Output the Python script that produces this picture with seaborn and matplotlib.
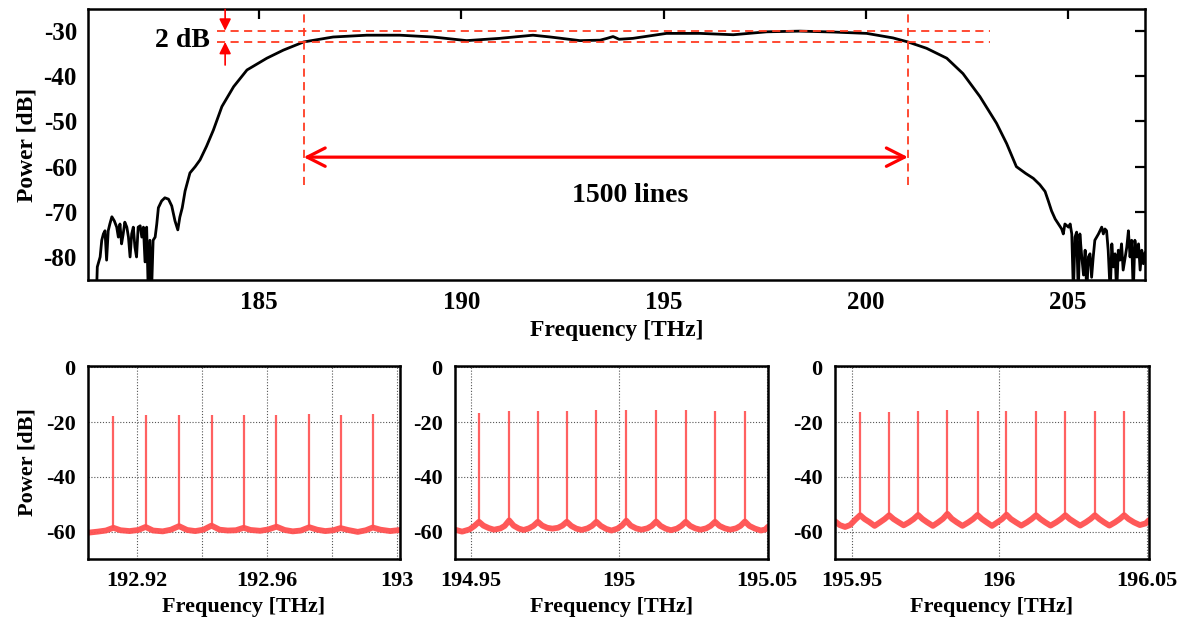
import matplotlib
matplotlib.use("Agg")
import matplotlib.pyplot as plt
import seaborn as sns

# ---------------- data ----------------
top_freq = [180.98, 181.00, 181.07, 181.11, 181.15, 181.19, 181.23, 181.27, 181.31, 181.36,
            181.42, 181.48, 181.52, 181.56, 181.60, 181.64, 181.68, 181.73, 181.77, 181.81,
            181.85, 181.89, 181.93, 181.97, 182.01, 182.06, 182.10, 182.14, 182.18, 182.22,
            182.26, 182.30, 182.34, 182.38, 182.43, 182.47, 182.51, 182.59, 182.67, 182.76,
            182.84, 182.92, 182.99, 183.04, 183.10, 183.17, 183.29, 183.42, 183.54, 183.70,
            183.87, 184.08, 184.37, 184.70, 185.19, 185.60, 186.10, 186.83, 187.66, 188.48,
            189.30, 190.13, 190.95, 191.77, 192.20, 192.93, 193.43, 193.60, 193.75, 193.90,
            194.24, 195.07, 195.90, 196.72, 197.55, 198.37, 199.20, 200.02, 200.67, 201.04,
            201.50, 202.00, 202.40, 202.82, 203.23, 203.48, 203.72, 203.95, 204.14, 204.30,
            204.43, 204.51, 204.59, 204.68, 204.76, 204.84, 204.88, 204.92, 205.01, 205.05,
            205.09, 205.13, 205.17, 205.21, 205.25, 205.29, 205.33, 205.38, 205.42, 205.46,
            205.50, 205.54, 205.58, 205.62, 205.66, 205.75, 205.83, 205.87, 205.91, 205.95,
            205.99, 206.04, 206.08, 206.12, 206.16, 206.20, 206.24, 206.28, 206.32, 206.36,
            206.45, 206.49, 206.53, 206.57, 206.61, 206.65, 206.70, 206.74, 206.78, 206.82,
            206.86, 206.90]
top_power = [-88.0, -82.2, -80.0, -76.3, -74.9, -74.2, -80.7, -74.2, -72.7, -71.1,
             -72.0, -73.4, -75.6, -72.7, -77.1, -74.9, -72.3, -73.4, -75.6, -80.0,
             -74.9, -73.4, -77.8, -80.0, -73.4, -73.1, -75.6, -73.4, -81.1, -73.4,
             -88.0, -76.3, -88.0, -76.3, -75.6, -72.7, -69.1, -67.6, -66.9, -67.2,
             -68.7, -72.0, -74.0, -71.2, -69.1, -65.4, -61.4, -60.0, -58.5, -55.5,
             -51.9, -46.7, -42.3, -38.6, -36.0, -34.2, -32.4, -31.3, -30.9, -30.9,
             -31.3, -32.1, -31.6, -30.9, -31.3, -32.1, -32.0, -31.6, -31.2, -31.8,
             -31.6, -30.5, -30.5, -30.8, -30.15, -30.0, -30.2, -30.5, -31.5, -32.4,
             -33.8, -36.0, -39.4, -44.5, -50.4, -54.9, -60.0, -61.5, -62.6, -64.0,
             -65.5, -67.6, -69.8, -71.6, -72.7, -73.8, -74.9, -72.7, -73.4, -72.7,
             -74.9, -88.0, -75.6, -74.5, -88.0, -74.9, -79.3, -84.0, -78.5, -88.0,
             -80.0, -79.3, -84.5, -80.0, -76.3, -74.9, -73.4, -74.9, -73.8, -74.2,
             -78.5, -88.0, -77.1, -82.2, -79.3, -88.0, -78.5, -80.7, -77.1, -82.9,
             -77.8, -74.2, -80.0, -76.3, -88.0, -76.3, -80.0, -77.1, -82.9, -78.5,
             -81.5, -79.0]

top_xticks = [185, 190, 195, 200, 205]
top_yticks = [-80, -70, -60, -50, -40, -30]
top_ylabels = ["-80", "-70", "-60", "-50", "-40", "-30"]

flat_levels = [-30.0, -32.3]          # 2 dB window
band_edges = [186.1, 201.04]          # 1500 lines span

# panel 1 (192.9 THz region)
p1_peak_f = [192.9128, 192.9227, 192.9330, 192.9430, 192.9529, 192.9630, 192.9731, 192.9827, 192.9926]
p1_peak_db = [-17.8, -17.5, -17.5, -17.5, -17.5, -17.5, -17.2, -17.5, -17.2]
p1_base_db = [-58.6, -58.3, -58.0, -57.8, -58.6, -58.2, -58.4, -58.7, -58.5]
p1_floor_f = [192.905, 192.908, 192.9105, 192.9128, 192.915, 192.9178, 192.9205, 192.9227, 192.925,
              192.928, 192.9305, 192.9330, 192.9355, 192.938, 192.9405, 192.9430, 192.9455, 192.948,
              192.9505, 192.9529, 192.955, 192.958, 192.9605, 192.9630, 192.9655, 192.968, 192.9705,
              192.9731, 192.9755, 192.978, 192.9805, 192.9827, 192.985, 192.988, 192.9905, 192.9926,
              192.995, 192.998, 193.001]
p1_floor_db = [-60.4, -60.0, -59.6, -58.6, -59.5, -59.8, -59.4, -58.3, -59.6,
               -59.9, -59.3, -58.0, -59.4, -59.8, -59.3, -57.8, -59.3, -59.6,
               -59.5, -58.6, -59.4, -59.7, -59.2, -58.2, -59.4, -59.9, -59.6,
               -58.4, -59.3, -59.8, -59.5, -58.7, -59.4, -60.1, -59.5, -58.5,
               -59.3, -59.8, -59.4]
p1_xticks = [192.92, 192.94, 192.96, 192.98, 193.00]
p1_xlabels = ["192.92", "", "192.96", "", "193"]

# panel 2 (195 THz region)
p2_peak_f = [194.9527, 194.9629, 194.9726, 194.9824, 194.9924, 195.0025, 195.0126, 195.0226, 195.0325, 195.0426]
p2_peak_db = [-16.6, -16.0, -16.0, -16.0, -15.4, -15.4, -15.4, -15.6, -16.0, -16.0]
p2_base_db = [-56.4, -55.9, -56.4, -56.4, -56.4, -56.0, -56.3, -56.4, -56.4, -56.3]
p2_floor_f = [194.9446, 194.9470, 194.9495, 194.9512, 194.9527, 194.9542, 194.9560, 194.9578, 194.9600,
              194.9614, 194.9629, 194.9644, 194.9662, 194.9678, 194.9696, 194.9711, 194.9726, 194.9741,
              194.9758, 194.9775, 194.9794, 194.9809, 194.9824, 194.9839, 194.9856, 194.9874, 194.9894,
              194.9909, 194.9924, 194.9939, 194.9957, 194.9975, 194.9995, 195.0010, 195.0025, 195.0040,
              195.0058, 195.0076, 195.0096, 195.0111, 195.0126, 195.0141, 195.0158, 195.0176, 195.0196,
              195.0211, 195.0226, 195.0241, 195.0258, 195.0276, 195.0295, 195.0310, 195.0325, 195.0340,
              195.0358, 195.0376, 195.0396, 195.0411, 195.0426, 195.0441, 195.0460, 195.0480, 195.0495,
              195.0504]
p2_floor_db = [-59.3, -60.0, -59.2, -57.9, -56.4, -57.8, -58.7, -59.3, -58.8,
               -57.9, -55.9, -57.8, -58.9, -59.4, -58.8, -57.9, -56.4, -57.8,
               -58.6, -58.9, -58.6, -57.8, -56.4, -57.9, -58.9, -59.4, -58.8,
               -57.9, -56.4, -57.9, -59.0, -59.6, -58.9, -57.8, -56.0, -57.8,
               -58.8, -59.3, -58.8, -57.9, -56.3, -57.9, -58.9, -59.5, -58.9,
               -57.9, -56.4, -57.9, -58.8, -59.3, -58.8, -57.9, -56.4, -57.9,
               -58.8, -59.3, -58.8, -57.9, -56.3, -57.9, -58.9, -59.6, -59.2,
               -58.2]
p2_xticks = [194.95, 195.00, 195.05]
p2_xlabels = ["194.95", "195", "195.05"]

# panel 3 (196 THz region)
p3_peak_f = [195.9529, 195.9627, 195.9725, 195.9824, 195.9926, 196.0024, 196.0124, 196.0223, 196.0323, 196.0422]
p3_peak_db = [-16.3, -16.3, -16.0, -15.7, -16.0, -16.0, -16.0, -16.0, -16.0, -16.0]
p3_base_db = [-54.0, -54.0, -53.9, -53.5, -53.9, -53.8, -54.0, -54.0, -54.0, -54.0]
p3_floor_f = [195.9444, 195.9460, 195.9478, 195.9495, 195.9513, 195.9529, 195.9544, 195.9560, 195.9578,
              195.9596, 195.9612, 195.9627, 195.9642, 195.9658, 195.9676, 195.9694, 195.9710, 195.9725,
              195.9740, 195.9756, 195.9775, 195.9793, 195.9809, 195.9824, 195.9839, 195.9856, 195.9875,
              195.9895, 195.9911, 195.9926, 195.9941, 195.9957, 195.9975, 195.9993, 196.0009, 196.0024,
              196.0039, 196.0056, 196.0074, 196.0093, 196.0109, 196.0124, 196.0139, 196.0155, 196.0173,
              196.0192, 196.0208, 196.0223, 196.0238, 196.0255, 196.0273, 196.0292, 196.0308, 196.0323,
              196.0338, 196.0354, 196.0372, 196.0391, 196.0407, 196.0422, 196.0437, 196.0455, 196.0475,
              196.0495, 196.0506]
p3_floor_db = [-56.2, -57.6, -58.3, -57.6, -55.6, -54.0, -55.4, -56.5, -57.9,
               -56.6, -55.4, -54.0, -55.4, -56.5, -57.7, -56.6, -55.4, -53.9,
               -55.4, -56.6, -57.9, -56.6, -55.3, -53.5, -55.3, -56.6, -57.9,
               -56.6, -55.4, -53.9, -55.4, -56.6, -57.9, -56.6, -55.4, -53.8,
               -55.4, -56.6, -57.8, -56.6, -55.4, -54.0, -55.4, -56.6, -57.8,
               -56.6, -55.4, -54.0, -55.4, -56.6, -57.8, -56.6, -55.4, -54.0,
               -55.4, -56.6, -57.8, -56.6, -55.4, -54.0, -55.4, -56.6, -57.6,
               -57.0, -55.8]
p3_xticks = [195.95, 196.00, 196.05]
p3_xlabels = ["195.95", "196", "196.05"]

zoom_yticks = [0, -20, -40, -60]
zoom_ylabels = ["0", "-20", "-40", "-60"]

# ---------------- style ----------------
sns.set_theme(style="white")
plt.rcParams["font.family"] = ["Liberation Serif", "DejaVu Serif"]
plt.rcParams["font.weight"] = "bold"
plt.rcParams["axes.labelweight"] = "bold"
plt.rcParams["axes.unicode_minus"] = False
for key in ["text.color", "axes.labelcolor", "xtick.color", "ytick.color"]:
    plt.rcParams[key] = "black"

RED_DASH = "#ff3b22"
RED = "#ff0000"
COMB = "#ff5050"

fig = plt.figure(figsize=(12, 6.28), dpi=100)

# ---------------- top panel ----------------
ax = fig.add_axes([88 / 1200, 1 - 280 / 628, 1057 / 1200, 271 / 628])
sns.lineplot(x=top_freq, y=top_power, ax=ax, color="black", lw=2.0, estimator=None, sort=False)
ax.set_xlim(180.77, 206.9)
ax.set_ylim(-85.1, -25.1)
ax.set_xticks(top_xticks)
ax.set_yticks(top_yticks)
ax.set_yticklabels(top_ylabels)
ax.tick_params(direction="in", length=7, width=1.6, top=True, right=True,
               labelsize=18, pad=8, colors="black")
for sp in ax.spines.values():
    sp.set_linewidth(1.8)
    sp.set_color("black")
ax.set_xlabel("Frequency [THz]", fontsize=17, fontweight="bold", labelpad=4)
ax.set_ylabel("Power [dB]", fontsize=17, fontweight="bold", labelpad=4)

ax.hlines(flat_levels, 183.96, 203.07, colors=RED_DASH, linestyles=(0, (4.5, 3)), lw=1.3)
ax.vlines(band_edges, -64.1, -25.1, colors=RED_DASH, linestyles=(0, (4.5, 3)), lw=1.3)

ax.annotate("", xy=(band_edges[0], -57.9), xytext=(band_edges[1], -57.9),
            arrowprops=dict(arrowstyle="<->,head_length=0.65,head_width=0.33",
                            color=RED, lw=2.3, mutation_scale=20, shrinkA=0, shrinkB=0))
ax.text(194.17, -66.3, "1500 lines", fontsize=20, fontweight="bold", ha="center", va="center")

ax.annotate("", xy=(184.16, flat_levels[0] + 0.1), xytext=(184.16, -25.2),
            arrowprops=dict(arrowstyle="-|>,head_length=0.5,head_width=0.25",
                            color=RED, lw=1.2, mutation_scale=14, shrinkA=0, shrinkB=0),
            annotation_clip=False)
ax.annotate("", xy=(184.16, flat_levels[1] - 0.1), xytext=(184.16, -37.5),
            arrowprops=dict(arrowstyle="-|>,head_length=0.5,head_width=0.25",
                            color=RED, lw=1.2, mutation_scale=14, shrinkA=0, shrinkB=0),
            annotation_clip=False)
ax.text(183.79, -32.1, "2 dB", fontsize=20, fontweight="bold", ha="right", va="center")

# ---------------- bottom panels ----------------
panels = [
    (88, 312, (192.905, 193.001), p1_floor_f, p1_floor_db, p1_peak_f, p1_peak_db, p1_base_db,
     p1_xticks, p1_xlabels, True),
    (455, 313, (194.9446, 195.0504), p2_floor_f, p2_floor_db, p2_peak_f, p2_peak_db, p2_base_db,
     p2_xticks, p2_xlabels, False),
    (835, 314, (195.9444, 196.0506), p3_floor_f, p3_floor_db, p3_peak_f, p3_peak_db, p3_base_db,
     p3_xticks, p3_xlabels, False),
]
for left, width, xlim, ff, fdb, pf, pdb, bdb, xt, xl, ylab in panels:
    bx = fig.add_axes([left / 1200, 1 - 559 / 628, width / 1200, 193 / 628])
    bx.vlines(pf, bdb, pdb, colors=COMB, lw=1.6, alpha=0.9)
    sns.lineplot(x=ff, y=fdb, ax=bx, color=COMB, lw=4.2, alpha=0.95, estimator=None, sort=False)
    bx.set_xlim(*xlim)
    bx.set_ylim(-70, 0.5)
    bx.set_xticks(xt)
    bx.set_xticklabels(xl)
    bx.set_yticks(zoom_yticks)
    bx.set_yticklabels(zoom_ylabels)
    bx.grid(True, color="#555555", linestyle=(0, (1, 1.6)), lw=0.8)
    bx.set_axisbelow(True)
    bx.tick_params(length=0, labelsize=16, pad=9, colors="black")
    for sp in bx.spines.values():
        sp.set_linewidth(1.8)
        sp.set_color("black")
    bx.set_xlabel("Frequency [THz]", fontsize=16, fontweight="bold", labelpad=4)
    if ylab:
        bx.set_ylabel("Power [dB]", fontsize=16, fontweight="bold", labelpad=6)
    else:
        bx.set_ylabel("")

fig.savefig("out.png", dpi=100)
